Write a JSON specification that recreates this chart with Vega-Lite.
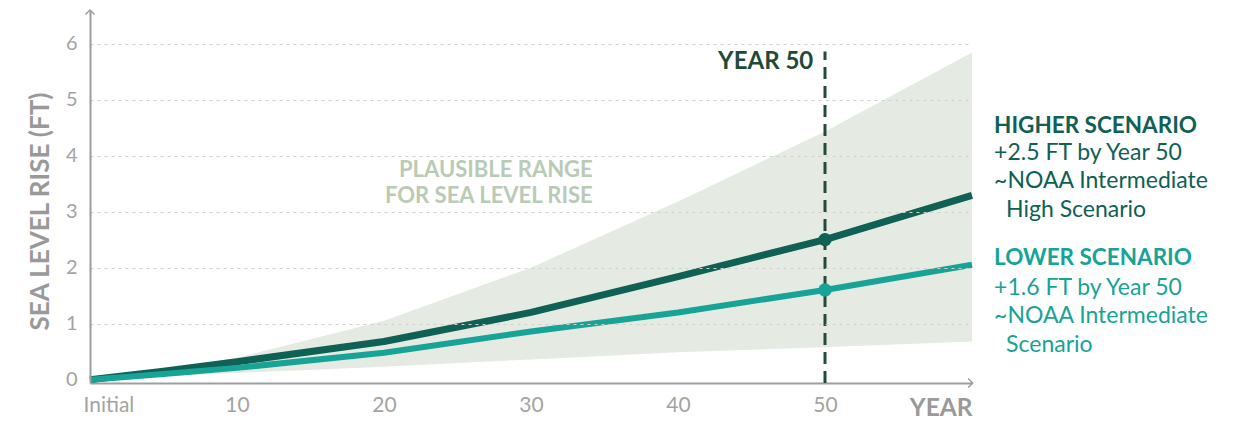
{
  "$schema": "https://vega.github.io/schema/vega-lite/v6.json",
  "width": 882,
  "height": 373,
  "autosize": "none",
  "padding": {"left": 90, "top": 10, "right": 262, "bottom": 40},
  "background": "white",
  "config": {
    "font": "Lato",
    "view": {"stroke": null}
  },
  "datasets": {
    "series": [
      {"year": 0, "scenario": "Higher", "ft": 0},
      {"year": 5, "scenario": "Higher", "ft": 0.15},
      {"year": 10, "scenario": "Higher", "ft": 0.32},
      {"year": 20, "scenario": "Higher", "ft": 0.68},
      {"year": 30, "scenario": "Higher", "ft": 1.2},
      {"year": 40, "scenario": "Higher", "ft": 1.84},
      {"year": 50, "scenario": "Higher", "ft": 2.5},
      {"year": 60, "scenario": "Higher", "ft": 3.29},
      {"year": 0, "scenario": "Lower", "ft": 0},
      {"year": 5, "scenario": "Lower", "ft": 0.1},
      {"year": 10, "scenario": "Lower", "ft": 0.21},
      {"year": 20, "scenario": "Lower", "ft": 0.48},
      {"year": 30, "scenario": "Lower", "ft": 0.86},
      {"year": 40, "scenario": "Lower", "ft": 1.2},
      {"year": 50, "scenario": "Lower", "ft": 1.6},
      {"year": 60, "scenario": "Lower", "ft": 2.05}
    ],
    "band": [
      {"year": 0, "low": 0, "high": 0},
      {"year": 5, "low": 0.06, "high": 0.17},
      {"year": 10, "low": 0.12, "high": 0.39},
      {"year": 20, "low": 0.23, "high": 1.05},
      {"year": 30, "low": 0.36, "high": 2.0},
      {"year": 40, "low": 0.49, "high": 3.18},
      {"year": 50, "low": 0.58, "high": 4.43},
      {"year": 60, "low": 0.68, "high": 5.84}
    ]
  },
  "layer": [
    {
      "data": {"name": "band"},
      "mark": {"type": "area", "color": "#e5ebe3", "opacity": 1},
      "encoding": {
        "x": {
          "field": "year", "type": "quantitative",
          "scale": {"domain": [0, 60], "nice": false, "zero": false},
          "axis": {
            "values": [0, 10, 20, 30, 40, 50],
            "labelExpr": "datum.value === 0 ? 'Initial' : datum.label",
            "labelAlign": {"expr": "datum.value === 0 ? 'left' : 'center'"},
            "labelOffset": {"expr": "datum.value === 0 ? -7 : 0"},
            "labelFontSize": 21,
            "labelColor": "#a3a3a3",
            "labelPadding": 11,
            "labelBaseline": "top",
            "ticks": false,
            "grid": false,
            "domainColor": "#9e9e9e",
            "domainWidth": 2,
            "title": "YEAR",
            "titleFontSize": 24.5,
            "titleFontWeight": "bold",
            "titleColor": "#999999",
            "titleX": 882,
            "titleY": 32,
            "titleAlign": "right",
            "titleBaseline": "alphabetic",
            "titleAngle": 0
          }
        },
        "y": {
          "field": "low", "type": "quantitative",
          "scale": {"domain": [-0.06, 6.6], "nice": false, "zero": false},
          "axis": {
            "values": [0, 1, 2, 3, 4, 5, 6],
            "format": "d",
            "zindex": 1,
            "labelFontSize": 20,
            "labelColor": "#a3a3a3",
            "labelPadding": 13,
            "ticks": false,
            "grid": true,
            "gridDash": [3, 4],
            "gridColor": "#cfcfcf",
            "gridWidth": 1,
            "gridOpacity": {"condition": {"test": "datum.value === 0", "value": 0}, "value": 1},
            "domainColor": "#9e9e9e",
            "domainWidth": 2,
            "title": "SEA LEVEL RISE (FT)",
            "titleFontSize": 26,
            "titleFontWeight": "bold",
            "titleColor": "#999999",
            "titleX": -50,
            "titleY": 201,
            "titleAlign": "center",
            "titleBaseline": "middle",
            "titleAngle": -90
          }
        },
        "y2": {"field": "high"}
      }
    },
    {
      "data": {"values": [{}]},
      "mark": {"type": "rule", "color": "#244a3a", "strokeWidth": 3, "strokeDash": [12, 7]},
      "encoding": {
        "x": {"datum": 50, "type": "quantitative"},
        "y": {"datum": -0.06, "type": "quantitative"},
        "y2": {"datum": 5.86}
      }
    },
    {
      "data": {"name": "series"},
      "mark": {"type": "line", "strokeCap": "butt", "strokeJoin": "round"},
      "encoding": {
        "x": {"field": "year", "type": "quantitative"},
        "y": {"field": "ft", "type": "quantitative"},
        "color": {
          "field": "scenario", "type": "nominal",
          "scale": {"domain": ["Higher", "Lower"], "range": ["#0f6055", "#17a396"]},
          "legend": null
        },
        "strokeWidth": {
          "field": "scenario", "type": "nominal",
          "scale": {"domain": ["Higher", "Lower"], "range": [7, 6]},
          "legend": null
        },
        "order": {"field": "scenario", "sort": "descending"}
      }
    },
    {
      "data": {"name": "series"},
      "transform": [{"filter": "datum.year === 50"}],
      "mark": {"type": "point", "filled": true, "size": 180, "opacity": 1},
      "encoding": {
        "x": {"field": "year", "type": "quantitative"},
        "y": {"field": "ft", "type": "quantitative"},
        "color": {"field": "scenario", "type": "nominal", "legend": null}
      }
    },
    {
      "data": {"values": [{}]},
      "mark": {"type": "point", "shape": "M-1,1L0,0L1,1", "size": 81, "filled": false, "stroke": "#9e9e9e", "strokeWidth": 1.5, "opacity": 1},
      "encoding": {
        "x": {"datum": 0, "type": "quantitative"},
        "y": {"datum": 6.6, "type": "quantitative"}
      }
    },
    {
      "data": {"values": [{}]},
      "mark": {"type": "point", "shape": "M-1,-1L0,0L-1,1", "size": 81, "filled": false, "stroke": "#9e9e9e", "strokeWidth": 1.5, "opacity": 1, "clip": false},
      "encoding": {
        "x": {"datum": 60.05, "type": "quantitative"},
        "y": {"datum": -0.06, "type": "quantitative"}
      }
    },
    {
      "data": {"values": [{}]},
      "mark": {"type": "text", "align": "right", "baseline": "alphabetic", "fontSize": 24, "fontWeight": "bold", "color": "#1f4a38"},
      "encoding": {
        "x": {"datum": 49.2, "type": "quantitative"},
        "y": {"datum": 5.54, "type": "quantitative"},
        "text": {"value": "YEAR 50"}
      }
    },
    {
      "data": {"values": [{}]},
      "mark": {"type": "text", "align": "right", "baseline": "alphabetic", "fontSize": 22, "fontWeight": "bold", "color": "#b9cbb5", "lineHeight": 25.5},
      "encoding": {
        "x": {"datum": 34.2, "type": "quantitative"},
        "y": {"datum": 3.61, "type": "quantitative"},
        "text": {"value": ["PLAUSIBLE RANGE", "FOR SEA LEVEL RISE"]}
      }
    },
    {
      "data": {"values": [{}]},
      "mark": {"type": "text", "align": "left", "baseline": "alphabetic", "fontSize": 22.5, "fontWeight": "bold", "color": "#0f6055"},
      "encoding": {
        "x": {"datum": 61.5, "type": "quantitative"},
        "y": {"datum": 4.41, "type": "quantitative"},
        "text": {"value": "HIGHER SCENARIO"}
      }
    },
    {
      "data": {"values": [{}]},
      "mark": {"type": "text", "align": "left", "baseline": "alphabetic", "fontSize": 23, "color": "#0f6055", "lineHeight": 28.5},
      "encoding": {
        "x": {"datum": 61.5, "type": "quantitative"},
        "y": {"datum": 3.93, "type": "quantitative"},
        "text": {"value": ["+2.5 FT by Year 50", "~NOAA Intermediate"]}
      }
    },
    {
      "data": {"values": [{}]},
      "mark": {"type": "text", "align": "left", "baseline": "alphabetic", "fontSize": 23, "color": "#0f6055", "dx": 12},
      "encoding": {
        "x": {"datum": 61.5, "type": "quantitative"},
        "y": {"datum": 2.91, "type": "quantitative"},
        "text": {"value": "High Scenario"}
      }
    },
    {
      "data": {"values": [{}]},
      "mark": {"type": "text", "align": "left", "baseline": "alphabetic", "fontSize": 22.5, "fontWeight": "bold", "color": "#17a396"},
      "encoding": {
        "x": {"datum": 61.5, "type": "quantitative"},
        "y": {"datum": 2.05, "type": "quantitative"},
        "text": {"value": "LOWER SCENARIO"}
      }
    },
    {
      "data": {"values": [{}]},
      "mark": {"type": "text", "align": "left", "baseline": "alphabetic", "fontSize": 23, "color": "#17a396", "lineHeight": 28.5},
      "encoding": {
        "x": {"datum": 61.5, "type": "quantitative"},
        "y": {"datum": 1.52, "type": "quantitative"},
        "text": {"value": ["+1.6 FT by Year 50", "~NOAA Intermediate"]}
      }
    },
    {
      "data": {"values": [{}]},
      "mark": {"type": "text", "align": "left", "baseline": "alphabetic", "fontSize": 23, "color": "#17a396", "dx": 12},
      "encoding": {
        "x": {"datum": 61.5, "type": "quantitative"},
        "y": {"datum": 0.5, "type": "quantitative"},
        "text": {"value": "Scenario"}
      }
    }
  ]
}
